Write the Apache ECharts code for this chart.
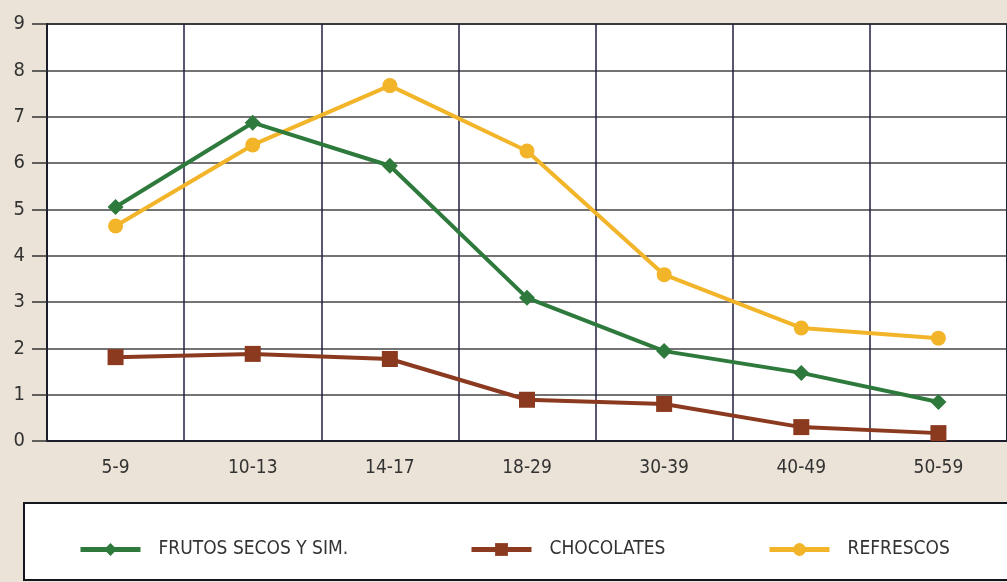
<!DOCTYPE html>
<html>
<head>
<meta charset="utf-8">
<script src="https://cdn.jsdelivr.net/npm/echarts@6/dist/echarts.min.js"></script>
<style>
html,body{margin:0;padding:0;background:#ebe3d7;}
#c{width:1007px;height:582px;}
</style>
</head>
<body>
<div id="c"></div>
<script>
const categories = ['5-9','10-13','14-17','18-29','30-39','40-49','50-59'];
const frutos = [5.05, 6.87, 5.94, 3.09, 1.94, 1.47, 0.84];
const chocolates = [1.81, 1.88, 1.77, 0.89, 0.80, 0.30, 0.17];
const refrescos = [4.64, 6.39, 7.67, 6.26, 3.59, 2.44, 2.22];
const names = ['FRUTOS SECOS Y SIM.', 'CHOCOLATES', 'REFRESCOS'];

const FONT = "'Liberation Sans Narrow','DejaVu Sans Condensed','Roboto',sans-serif";
const chart = echarts.init(document.getElementById('c'));
const legendBase = {
  top: 535, itemWidth: 60, itemHeight: 16,
  lineStyle: {width: 5},
  textStyle: {fontFamily: FONT, fontSize: 19, color: '#333', padding: [0,0,0,13]},
  selectedMode: false
};
chart.setOption({
  backgroundColor: '#ebe3d7',
  animation: false,
  grid: {left: 47, top: 24, width: 968, height: 417, show: true, backgroundColor: '#ffffff', borderColor: '#1c1c2c', borderWidth: 2},
  graphic: [{type: 'rect', shape: {x: 24, y: 503, width: 1000, height: 77}, style: {fill: '#ffffff', stroke: '#151520', lineWidth: 2}, z: 0}],
  legend: [
    Object.assign({left: 73, data: [names[0]]}, legendBase),
    Object.assign({left: 464, data: [names[1]]}, legendBase),
    Object.assign({left: 762, data: [names[2]]}, legendBase)
  ],
  xAxis: {
    type: 'category', data: categories, boundaryGap: true,
    axisLine: {lineStyle: {color: '#1c1c2c', width: 2}},
    axisTick: {show: false},
    axisLabel: {fontFamily: FONT, fontSize: 19, color: '#333', margin: 18},
    splitLine: {show: true, lineStyle: {color: '#1f2040', width: 1.5}}
  },
  yAxis: {
    type: 'value', min: 0, max: 9, interval: 1,
    axisLine: {show: true, lineStyle: {color: '#1c1c2c', width: 2}},
    axisTick: {show: true, length: 15, lineStyle: {color: '#333', width: 1.5}},
    axisLabel: {fontFamily: FONT, fontSize: 20, color: '#333', margin: 22},
    splitLine: {show: true, lineStyle: {color: '#444', width: 1.5}}
  },
  series: [
    {name: names[0], type: 'line', data: frutos, symbol: 'diamond', symbolSize: 16,
     lineStyle: {color: '#2e7a3c', width: 4}, itemStyle: {color: '#2e7a3c'}, z: 3},
    {name: names[1], type: 'line', data: chocolates, symbol: 'rect', symbolSize: 16,
     lineStyle: {color: '#8b3a1f', width: 4}, itemStyle: {color: '#8b3a1f'}, z: 2},
    {name: names[2], type: 'line', data: refrescos, symbol: 'circle', symbolSize: 15,
     lineStyle: {color: '#f2b52a', width: 4}, itemStyle: {color: '#f2b52a'}, z: 2}
  ]
});
</script>
</body>
</html>
